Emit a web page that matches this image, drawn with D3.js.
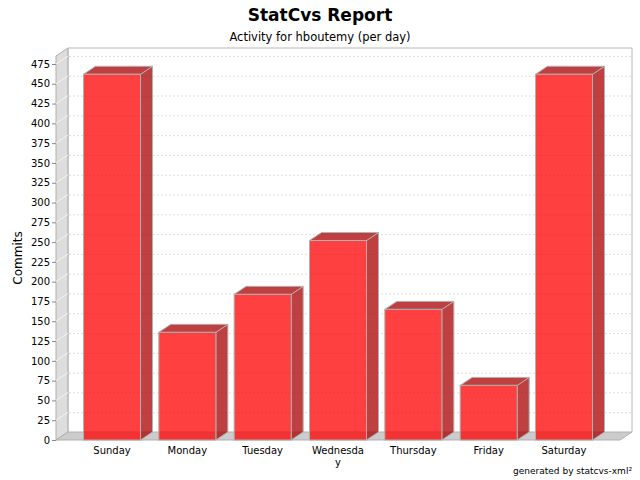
<!DOCTYPE html>
<html>
<head>
<meta charset="utf-8">
<script src="https://cdn.jsdelivr.net/npm/d3@7"></script>
<style>
html,body{margin:0;padding:0;background:#fff;}
svg{display:block;}
text{font-family:"DejaVu Sans",sans-serif;}
</style>
</head>
<body>
<svg id="chart" width="640" height="480"></svg>
<script>
const categories = ["Sunday","Monday","Tuesday","Wednesday","Thursday","Friday","Saturday"];
const commits = [462, 136, 184, 252, 165, 69, 462];
const yTicks = [0,25,50,75,100,125,150,175,200,225,250,275,300,325,350,375,400,425,450,475];
const titleText = "StatCvs Report";
const subtitleText = "Activity for hboutemy (per day)";
const yTitle = "Commits";
const footer = "generated by statcvs-xml²";

const svg = d3.select("#chart");
const dx = 12, dy = 8;
const pLeft = 56, pRight = 620, pBottom = 440, pTop = 56;

const y = d3.scaleLinear().domain([0, 475]).range([pBottom, pBottom - 475 * 0.7916]);
const x = d3.scaleBand().domain(categories).range([pLeft, pRight]).paddingInner(0.243).paddingOuter(0.365);

// title
svg.append("text").attr("x", 320).attr("y", 21).attr("text-anchor", "middle")
  .attr("font-size", 17).attr("font-weight", "bold").text(titleText);
svg.append("text").attr("x", 320).attr("y", 41).attr("text-anchor", "middle")
  .attr("font-size", 11.5).text(subtitleText);

// left wall
svg.append("path")
  .attr("d", `M${pLeft},${pTop}L${pLeft+dx},${pTop-dy}L${pLeft+dx},${pBottom-dy}L${pLeft},${pBottom}Z`)
  .attr("fill", "#dddddd").attr("stroke", "#b0b0b0");
// floor
svg.append("path")
  .attr("d", `M${pLeft},${pBottom}L${pLeft+dx},${pBottom-dy}L${pRight+dx},${pBottom-dy}L${pRight},${pBottom}Z`)
  .attr("fill", "#cccccc").attr("stroke", "#b0b0b0");
// back wall outline
svg.append("path")
  .attr("d", `M${pLeft+dx},${pBottom-dy}L${pLeft+dx},${pTop-dy}L${pRight+dx},${pTop-dy}L${pRight+dx},${pBottom-dy}`)
  .attr("fill", "none").attr("stroke", "#b8b8b8");

// gridlines
const grid = svg.append("g");
yTicks.filter(v => v > 0).forEach(v => {
  grid.append("line").attr("x1", pLeft + dx + 1).attr("x2", pRight + dx - 1)
    .attr("y1", y(v) - dy + 0.5).attr("y2", y(v) - dy + 0.5)
    .attr("stroke", "#dedede").attr("stroke-dasharray", "2,2");
  grid.append("line").attr("x1", pLeft).attr("x2", pLeft + dx)
    .attr("y1", y(v)).attr("y2", y(v) - dy)
    .attr("stroke", "#f4f4f4");
});

// bars
const bars = svg.append("g").selectAll("g").data(categories).join("g");
bars.each(function(c, i) {
  const g = d3.select(this);
  const x0 = x(c), x1 = x(c) + x.bandwidth();
  const yt = y(commits[i]), yb = y(0);
  g.append("path")
    .attr("d", `M${x1},${yb}L${x1+dx},${yb-dy}L${x1+dx},${yt-dy}L${x1},${yt}Z`)
    .attr("fill", "#aa0000").attr("fill-opacity", 0.75)
    .attr("stroke", "#b0b0b0").attr("stroke-width", 1);
  g.append("path")
    .attr("d", `M${x0},${yt}L${x0+dx},${yt-dy}L${x1+dx},${yt-dy}L${x1},${yt}Z`)
    .attr("fill", "#aa0000").attr("fill-opacity", 0.75)
    .attr("stroke", "#b0b0b0").attr("stroke-width", 1);
  g.append("rect").attr("x", x0).attr("y", yt).attr("width", x1 - x0).attr("height", yb - yt)
    .attr("fill", "#ff0000").attr("fill-opacity", 0.75)
    .attr("stroke", "#b0b0b0").attr("stroke-width", 1);
});

// y axis
const yAxis = d3.axisLeft(y).tickValues(yTicks).tickSize(4).tickPadding(2);
const ya = svg.append("g").attr("transform", `translate(${pLeft},0)`).call(yAxis);
ya.select(".domain").remove();
ya.selectAll("line").attr("stroke", "#888");
ya.selectAll("text").attr("font-size", 10).attr("fill", "#000").attr("font-family", "DejaVu Sans");

svg.append("text").attr("transform", `translate(22,258) rotate(-90)`)
  .attr("text-anchor", "middle").attr("font-size", 12).text(yTitle);

// x labels
const xl = svg.append("g");
categories.forEach(c => {
  const cx = x(c) + x.bandwidth() / 2;
  const t = xl.append("text").attr("x", cx).attr("y", 454).attr("text-anchor", "middle").attr("font-size", 10);
  if (c.length > 8) {
    t.append("tspan").attr("x", cx).text(c.slice(0, 8));
    t.append("tspan").attr("x", cx).attr("dy", 12).text(c.slice(8));
  } else {
    t.text(c);
  }
});

svg.append("text").attr("x", 632).attr("y", 474).attr("text-anchor", "end")
  .attr("font-size", 9).text(footer);
</script>
</body>
</html>
